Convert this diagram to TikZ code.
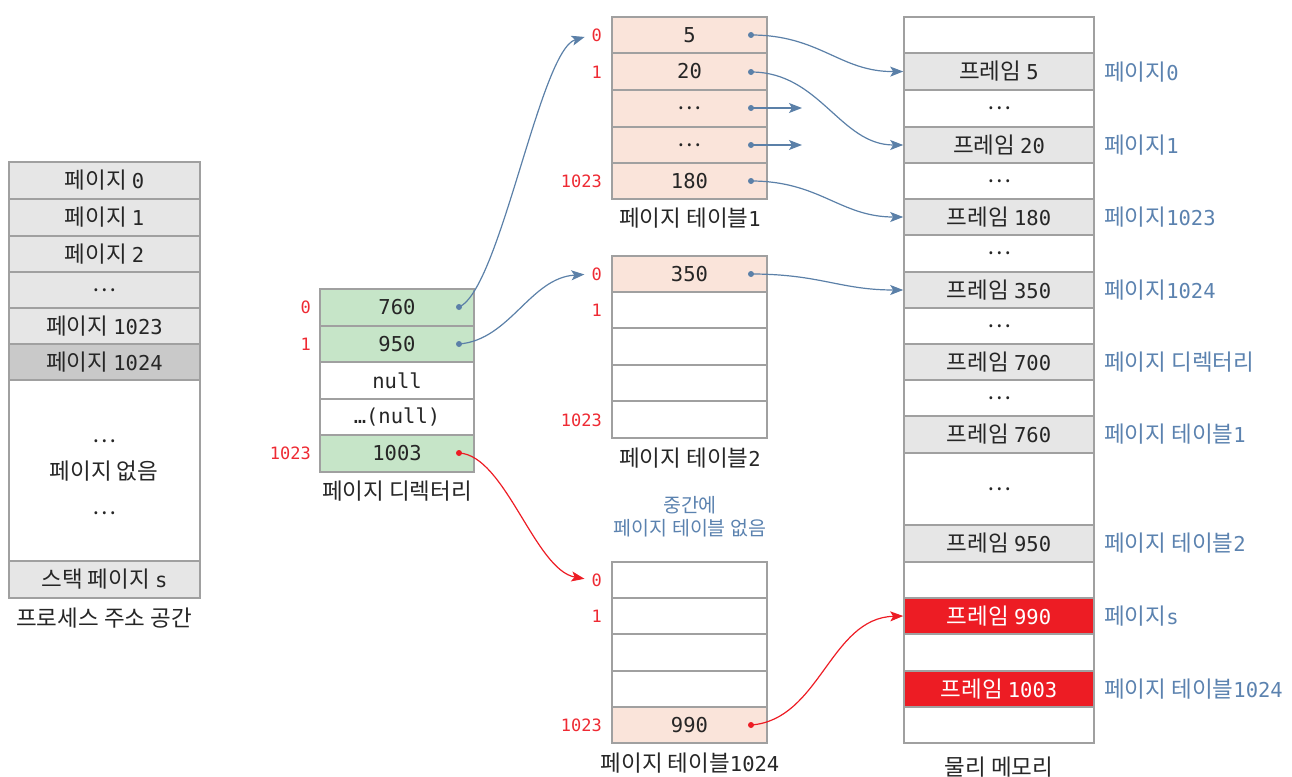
\documentclass[tikz,border=0pt]{standalone}
\usepackage{fontspec}
\setmainfont{Noto Sans CJK KR}
\newfontfamily\mn{DejaVu Sans Mono}
\usetikzlibrary{arrows.meta}
\definecolor{cellborder}{HTML}{A0A0A0}
\definecolor{gfillc}{HTML}{E6E6E6}
\definecolor{dfillc}{HTML}{C9C9C9}
\definecolor{greenc}{HTML}{C6E5C8}
\definecolor{peachc}{HTML}{FAE4DA}
\definecolor{redc}{HTML}{ED1C24}
\definecolor{idxred}{HTML}{EE2A33}
\definecolor{blueline}{HTML}{5B80A8}
\definecolor{bluetext}{HTML}{5B82AF}
\definecolor{txt}{HTML}{262626}
\newcommand\m[1]{{\mn\fontsize{20.5}{24}\selectfont #1}}
\newcommand\mycell[7]{\node[cell,#6,minimum width={(#4-#2)*1pt}, minimum height={(#5-#3)*1pt}] (#1) at ({(#2+#4)/2},{(#3+#5)/2}) {#7};}
\begin{document}
\begin{tikzpicture}[x=1pt,y=-1pt,
  cell/.style={draw=cellborder, line width=1.6pt, inner sep=0pt, text=txt, font=\fontsize{22.5}{26}\selectfont},
  gfill/.style={fill=gfillc},
  dfill/.style={fill=dfillc},
  wfill/.style={fill=white},
  grn/.style={fill=greenc},
  pch/.style={fill=peachc},
  rfill/.style={fill=redc, text=white},
  lbl/.style={text=txt, font=\fontsize{22.5}{26}\selectfont, inner sep=0pt},
  blbl/.style={text=bluetext, font=\fontsize{22.5}{26}\selectfont, inner sep=0pt, anchor=west},
  note/.style={text=bluetext, font=\fontsize{19.5}{22}\selectfont, inner sep=0pt},
  idx/.style={anchor=east, text=idxred, font=\mn\fontsize{17}{20}\selectfont, inner sep=0pt},
  dotb/.style={circle, fill=blueline, inner sep=0pt, minimum size=6pt},
  dotr/.style={circle, fill=redc, inner sep=0pt, minimum size=6pt},
  arrb/.style={draw=blueline, line width=1.2pt, -{Stealth[length=13pt,width=10pt,inset=3pt]}},
  arrr/.style={draw=redc, line width=1.2pt, -{Stealth[length=13pt,width=10pt,inset=3pt]}}
]
\useasboundingbox (0,0) rectangle (1292,776);

% process address space
\mycell{s0}{9}{162}{200}{199}{gfill}{페이지 \m{0}}
\mycell{s1}{9}{199}{200}{236}{gfill}{페이지 \m{1}}
\mycell{s2}{9}{236}{200}{272}{gfill}{페이지 \m{2}}
\mycell{s3}{9}{272}{200}{308}{gfill}{…}
\mycell{s4}{9}{308}{200}{344}{gfill}{페이지 \m{1023}}
\mycell{s5}{9}{344}{200}{380}{dfill}{페이지 \m{1024}}
\mycell{s6}{9}{380}{200}{561}{wfill}{}
\mycell{s7}{9}{561}{200}{598}{gfill}{스택 페이지 \m{s}}
\node[lbl] (s6a) at (104,441) {…};
\node[lbl] (s6b) at (104,471) {페이지 없음};
\node[lbl] (s6c) at (104,513) {…};
\node[lbl] (sl) at (104,618) {프로세스 주소 공간};

% page directory
\mycell{d0}{320}{289}{474}{326}{grn}{\m{760}}
\mycell{d1}{320}{326}{474}{362}{grn}{\m{950}}
\mycell{d2}{320}{362}{474}{399}{wfill}{\m{null}}
\mycell{d3}{320}{399}{474}{435}{wfill}{\m{…(null)}}
\mycell{d4}{320}{435}{474}{472}{grn}{\m{1003}}
\node[idx] (di0) at (311,307) {0};
\node[idx] (di1) at (311,344) {1};
\node[idx] (di4) at (311,453) {1023};
\node[lbl] (dl) at (397,491) {페이지 디렉터리};
\node[dotb] (dd0) at (459,307) {};
\node[dotb] (dd1) at (459,344) {};
\node[dotr] (dd4) at (459,453) {};

% page table 1
\mycell{a0}{612}{17}{767}{53}{pch}{\m{5}}
\mycell{a1}{612}{53}{767}{90}{pch}{\m{20}}
\mycell{a2}{612}{90}{767}{127}{pch}{…}
\mycell{a3}{612}{127}{767}{163}{pch}{…}
\mycell{a4}{612}{163}{767}{199}{pch}{\m{180}}
\node[idx] (ai0) at (602,35) {0};
\node[idx] (ai1) at (602,72) {1};
\node[idx] (ai4) at (602,181) {1023};
\node[lbl] (al) at (690,218) {페이지 테이블\m{1}};
\node[dotb] (ad0) at (751,35) {};
\node[dotb] (ad1) at (751,72) {};
\node[dotb] (ad2) at (751,108) {};
\node[dotb] (ad3) at (751,145) {};
\node[dotb] (ad4) at (751,181) {};
\coordinate (ae2) at (802,108);
\coordinate (ae3) at (802,145);

% page table 2
\mycell{b0}{612}{256}{767}{292}{pch}{\m{350}}
\mycell{b1}{612}{292}{767}{328}{wfill}{}
\mycell{b2}{612}{328}{767}{365}{wfill}{}
\mycell{b3}{612}{365}{767}{401}{wfill}{}
\mycell{b4}{612}{401}{767}{438}{wfill}{}
\node[idx] (bi0) at (602,274) {0};
\node[idx] (bi1) at (602,310) {1};
\node[idx] (bi4) at (602,420) {1023};
\node[lbl] (bl) at (690,458) {페이지 테이블\m{2}};
\node[dotb] (bd0) at (751,274) {};
\node[note] (n1) at (690,505) {중간에};
\node[note] (n2) at (690,528) {페이지 테이블 없음};

% page table 1024
\mycell{c0}{612}{562}{767}{598}{wfill}{}
\mycell{c1}{612}{598}{767}{634}{wfill}{}
\mycell{c2}{612}{634}{767}{671}{wfill}{}
\mycell{c3}{612}{671}{767}{707}{wfill}{}
\mycell{c4}{612}{707}{767}{743}{pch}{\m{990}}
\node[idx] (ci0) at (602,580) {0};
\node[idx] (ci1) at (602,616) {1};
\node[idx] (ci4) at (602,725) {1023};
\node[lbl] (cl) at (690,763) {페이지 테이블\m{1024}};
\node[dotr] (cd4) at (751,725) {};

% physical memory
\mycell{m0}{904}{17}{1094}{53}{wfill}{}
\mycell{m1}{904}{53}{1094}{90}{gfill}{프레임 \m{5}}
\mycell{m2}{904}{90}{1094}{127}{wfill}{…}
\mycell{m3}{904}{127}{1094}{163}{gfill}{프레임 \m{20}}
\mycell{m4}{904}{163}{1094}{199}{wfill}{…}
\mycell{m5}{904}{199}{1094}{235}{gfill}{프레임 \m{180}}
\mycell{m6}{904}{235}{1094}{272}{wfill}{…}
\mycell{m7}{904}{272}{1094}{308}{gfill}{프레임 \m{350}}
\mycell{m8}{904}{308}{1094}{344}{wfill}{…}
\mycell{m9}{904}{344}{1094}{380}{gfill}{프레임 \m{700}}
\mycell{m10}{904}{380}{1094}{416}{wfill}{…}
\mycell{m11}{904}{416}{1094}{453}{gfill}{프레임 \m{760}}
\mycell{m12}{904}{453}{1094}{525}{wfill}{…}
\mycell{m13}{904}{525}{1094}{562}{gfill}{프레임 \m{950}}
\mycell{m14}{904}{562}{1094}{598}{wfill}{}
\mycell{m15}{904}{598}{1094}{634}{rfill}{프레임 \m{990}}
\mycell{m16}{904}{634}{1094}{671}{wfill}{}
\mycell{m17}{904}{671}{1094}{707}{rfill}{프레임 \m{1003}}
\mycell{m18}{904}{707}{1094}{743}{wfill}{}
\node[lbl] (ml) at (999,767) {물리 메모리};
\node[blbl] (r1) at (1104,72) {페이지\m{0}};
\node[blbl] (r3) at (1104,145) {페이지\m{1}};
\node[blbl] (r5) at (1104,217) {페이지\m{1023}};
\node[blbl] (r7) at (1104,290) {페이지\m{1024}};
\node[blbl] (r9) at (1104,362) {페이지 디렉터리};
\node[blbl] (r11) at (1104,434) {페이지 테이블\m{1}};
\node[blbl] (r13) at (1104,543) {페이지 테이블\m{2}};
\node[blbl] (r15) at (1104,616) {페이지\m{s}};
\node[blbl] (r17) at (1104,689) {페이지 테이블\m{1024}};

% connectors
\draw[arrb, shorten >=7pt] (dd0.center) .. controls (500,290) and (540,50) .. (ai0.west);
\draw[arrb, shorten >=7pt] (dd1.center) .. controls (510,340) and (530,278) .. (bi0.west);
\draw[arrr, shorten >=7pt] (dd4.center) .. controls (505,455) and (535,570) .. (ci0.west);
\draw[arrb] (ad0.center) .. controls (820,35) and (840,72) .. (m1.west);
\draw[arrb] (ad1.center) .. controls (820,72) and (840,145) .. (m3.west);
\draw[arrb] (ad2.center) -- (ae2);
\draw[arrb] (ad3.center) -- (ae3);
\draw[arrb] (ad4.center) .. controls (820,181) and (840,217) .. (m5.west);
\draw[arrb] (bd0.center) .. controls (820,274) and (840,290) .. (m7.west);
\draw[arrr] (cd4.center) .. controls (820,720) and (830,618) .. (m15.west);
\end{tikzpicture}
\end{document}
